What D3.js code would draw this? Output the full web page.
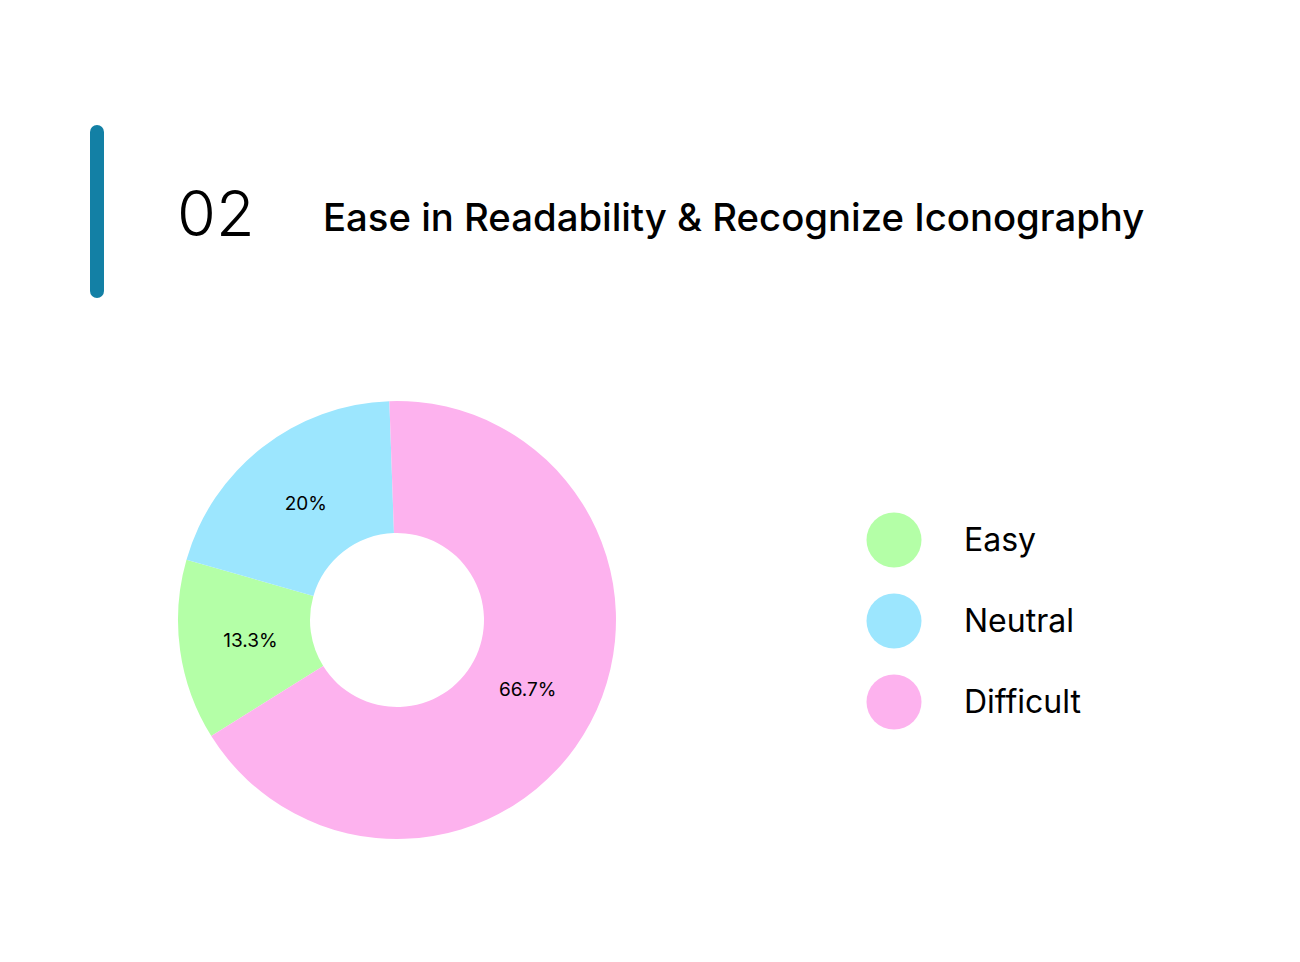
<!DOCTYPE html>
<html>
<head>
<meta charset="utf-8">
<script src="https://cdn.jsdelivr.net/npm/d3@7"></script>
<style>
  body { margin: 0; background: #fff; }
  svg { display: block; font-family: Inter, "Noto Sans", sans-serif; }
</style>
</head>
<body>
<div id="wrapper"></div>
<script>
var categories = ['Easy', 'Neutral', 'Difficult'];
var counts = [2, 3, 10];
var colors = ['#b4ffa7', '#9ce6fe', '#fdb2ee'];
var sectionNum = '02';
var title = 'Ease in Readability & Recognize Iconography';

var width = 1300, height = 962;

var svg = d3.select('#wrapper')
    .append('svg')
    .attr('width', width)
    .attr('height', height);

// header: accent bar, number, title
svg.append('rect')
    .attr('x', 90).attr('y', 125)
    .attr('width', 14).attr('height', 173)
    .attr('rx', 7)
    .style('fill', '#1380a5');

svg.append('text')
    .attr('x', 177).attr('y', 236)
    .style('font-size', '63px')
    .style('font-weight', 300)
    .style('fill', '#000')
    .text(sectionNum);

svg.append('text')
    .attr('x', 323).attr('y', 231)
    .style('font-size', '38.3px')
    .style('font-weight', 500)
    .style('fill', '#000')
    .text(title);

// donut
var total = d3.sum(counts);
var color = d3.scaleOrdinal().domain(categories).range(colors);

var start = 238 * Math.PI / 180;
var pie = d3.pie().sort(null)
    .startAngle(start)
    .endAngle(start + 2 * Math.PI);

var arc = d3.arc().innerRadius(87).outerRadius(219);
var labelArc = d3.arc().innerRadius(148).outerRadius(148);

var slices = pie(counts);

var donut = svg.append('g')
    .attr('id', 'donut')
    .attr('transform', 'translate(397,620)');

donut.selectAll('path')
    .data(slices)
    .enter()
    .append('path')
    .attr('d', arc)
    .style('fill', function(d, i){ return color(categories[i]); });

var pctFormat = function(v){
    var p = Math.round(v / total * 1000) / 10;
    return p + '%';
};

donut.selectAll('text')
    .data(slices)
    .enter()
    .append('text')
    .attr('transform', function(d){
        var c = labelArc.centroid(d);
        return 'translate(' + c[0] + ',' + c[1] + ')';
    })
    .attr('text-anchor', 'middle')
    .attr('dy', '0.35em')
    .style('font-size', '19px')
    .style('fill', '#000')
    .text(function(d){ return pctFormat(d.value); });

// legend
var legendY = d3.scalePoint().domain(categories).range([540, 702]);

var legend = svg.append('g')
    .attr('id', 'legend')
    .selectAll('g')
    .data(categories)
    .enter()
    .append('g')
    .attr('transform', function(d){ return 'translate(894,' + legendY(d) + ')'; });

legend.append('circle')
    .attr('r', 27.5)
    .style('fill', function(d){ return color(d); });

legend.append('text')
    .attr('x', 70)
    .attr('dy', '0.35em')
    .style('font-size', '32px')
    .style('fill', '#000')
    .text(function(d){ return d; });
</script>
</body>
</html>
